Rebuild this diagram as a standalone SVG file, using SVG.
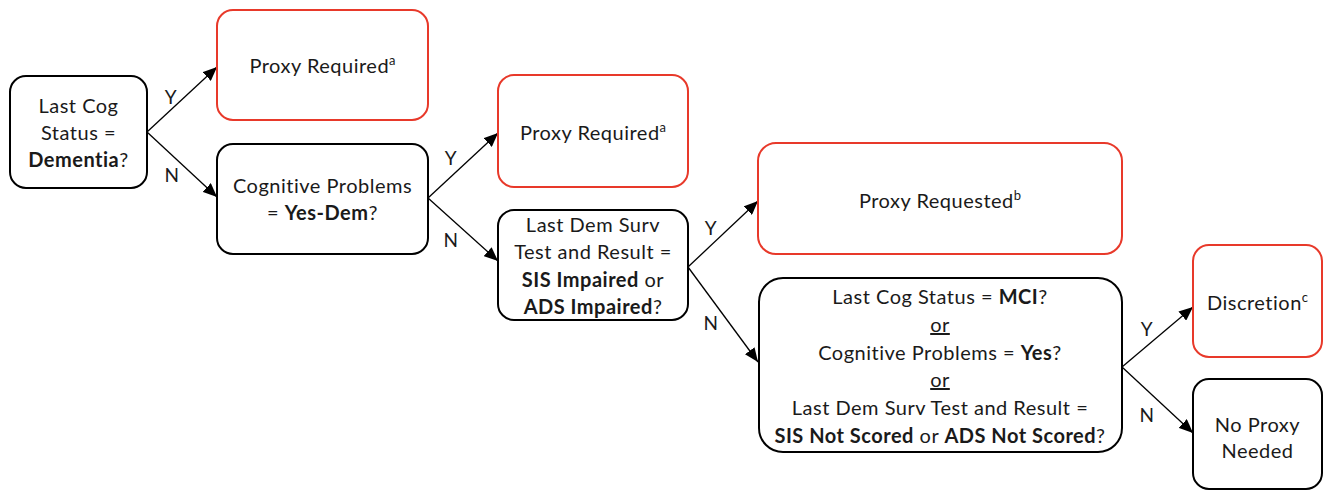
<svg xmlns="http://www.w3.org/2000/svg" width="1328" height="491" viewBox="0 0 1328 491">
<defs>
<marker id="arr" markerUnits="userSpaceOnUse" markerWidth="14" markerHeight="12" viewBox="0 0 14 12" refX="14" refY="6" orient="auto">
<path d="M0,0 L14,6 L0,12 Z" fill="#000"/>
</marker>
<style>
.box{fill:#fff;stroke:#000;stroke-width:2}
.red{fill:#fff;stroke:#E8392A;stroke-width:2}
text{font-family:Lato,"Open Sans","Liberation Sans",sans-serif;font-size:20px;letter-spacing:0.5px;fill:#1a1a1a;text-anchor:middle}
.b{font-weight:bold}
.sup{font-size:13px;letter-spacing:0}
.lbl{font-size:19px}
.con{stroke:#000;stroke-width:1.3;fill:none;marker-end:url(#arr)}
</style>
</defs>
<rect width="1328" height="491" fill="#fff"/>
<g id="connectors">
<line class="con" x1="147" y1="132" x2="217" y2="67"/>
<line class="con" x1="147" y1="132" x2="217" y2="197"/>
<line class="con" x1="428" y1="198" x2="498" y2="133"/>
<line class="con" x1="428" y1="198" x2="498" y2="261"/>
<line class="con" x1="688" y1="267" x2="758" y2="201"/>
<line class="con" x1="688" y1="267" x2="758" y2="362"/>
<line class="con" x1="1122" y1="367" x2="1193" y2="307"/>
<line class="con" x1="1122" y1="367" x2="1193" y2="433"/>
<text class="lbl" x="171" y="104">Y</text>
<text class="lbl" x="172" y="182">N</text>
<text class="lbl" x="451" y="165">Y</text>
<text class="lbl" x="451" y="247">N</text>
<text class="lbl" x="711" y="235">Y</text>
<text class="lbl" x="711" y="330">N</text>
<text class="lbl" x="1147" y="336">Y</text>
<text class="lbl" x="1147" y="422">N</text>
</g>
<g id="n1">
<rect class="box" x="10" y="76" width="137" height="112" rx="16"/>
<text x="78.5" y="113">Last Cog</text>
<text x="78.5" y="140">Status =</text>
<text x="78.5" y="167"><tspan class="b">Dementia</tspan>?</text>
</g>
<g id="n2">
<rect class="red" x="217" y="10" width="211" height="110" rx="16"/>
<text x="322.5" y="73">Proxy Required<tspan class="sup" dy="-8">a</tspan></text>
</g>
<g id="n3">
<rect class="box" x="217" y="144" width="211" height="110" rx="16"/>
<text x="322.5" y="193">Cognitive Problems</text>
<text x="322.5" y="220">= <tspan class="b">Yes-Dem</tspan>?</text>
</g>
<g id="n4">
<rect class="red" x="498" y="75" width="190" height="112" rx="16"/>
<text x="593" y="140">Proxy Required<tspan class="sup" dy="-8">a</tspan></text>
</g>
<g id="n5">
<rect class="box" x="498" y="210" width="190" height="110" rx="16"/>
<text x="593" y="232">Last Dem Surv</text>
<text x="593" y="259">Test and Result =</text>
<text x="593" y="287"><tspan class="b">SIS Impaired</tspan> or</text>
<text x="593" y="314"><tspan class="b">ADS Impaired</tspan>?</text>
</g>
<g id="n6">
<rect class="red" x="758" y="143" width="364" height="111" rx="18"/>
<text x="940" y="208">Proxy Requested<tspan class="sup" dy="-8">b</tspan></text>
</g>
<g id="n7">
<rect class="box" x="759" y="278" width="363" height="174" rx="24"/>
<text x="940" y="304">Last Cog Status = <tspan class="b">MCI</tspan>?</text>
<text x="940" y="332" text-decoration="underline">or</text>
<text x="940" y="360">Cognitive Problems = <tspan class="b">Yes</tspan>?</text>
<text x="940" y="387" text-decoration="underline">or</text>
<text x="940" y="415">Last Dem Surv Test and Result =</text>
<text x="940" y="443"><tspan class="b">SIS Not Scored</tspan> or <tspan class="b">ADS Not Scored</tspan>?</text>
</g>
<g id="n8">
<rect class="red" x="1193" y="245" width="129" height="112" rx="16"/>
<text x="1257.5" y="310">Discretion<tspan class="sup" dy="-8">c</tspan></text>
</g>
<g id="n9">
<rect class="box" x="1193" y="379" width="129" height="110" rx="16"/>
<text x="1257.5" y="432">No Proxy</text>
<text x="1257.5" y="458">Needed</text>
</g>
</svg>
